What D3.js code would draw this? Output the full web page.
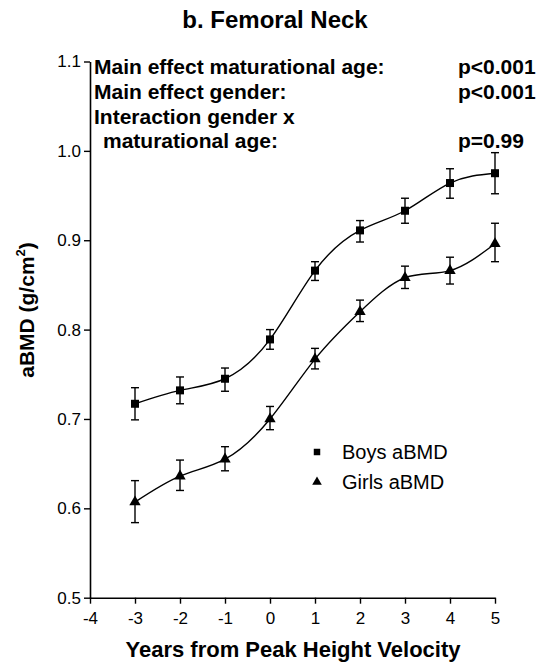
<!DOCTYPE html>
<html><head><meta charset="utf-8">
<script src="https://cdn.jsdelivr.net/npm/d3@7"></script>
<style>body{margin:0;background:#fff}svg{display:block}</style>
</head><body>
<script>
const years = [-3, -2, -1, 0, 1, 2, 3, 4, 5];
const boysMean = [0.717, 0.732, 0.745, 0.789, 0.866, 0.911, 0.933, 0.964, 0.975];
const boysLow  = [0.699, 0.717, 0.731, 0.778, 0.855, 0.898, 0.919, 0.947, 0.952];
const boysHigh = [0.735, 0.747, 0.757, 0.800, 0.876, 0.922, 0.947, 0.980, 0.998];
const girlsMean = [0.607, 0.636, 0.655, 0.700, 0.767, 0.820, 0.858, 0.866, 0.896];
const girlsLow  = [0.584, 0.620, 0.642, 0.688, 0.756, 0.809, 0.846, 0.851, 0.876];
const girlsHigh = [0.631, 0.654, 0.669, 0.714, 0.779, 0.833, 0.871, 0.881, 0.919];
const xTicks = [-4, -3, -2, -1, 0, 1, 2, 3, 4, 5];
const yTicks = [0.5, 0.6, 0.7, 0.8, 0.9, 1.0, 1.1];
const seriesNames = ["Boys aBMD", "Girls aBMD"];
const statLabels = ["Main effect maturational age:", "Main effect gender:", "Interaction gender x", "  maturational age:"];
const statValues = ["p<0.001", "p<0.001", "", "p=0.99"];

const W = 545, H = 667;
const svg = d3.select("body").append("svg").attr("width", W).attr("height", H);
const x = d3.scaleLinear().domain([-4, 5]).range([90, 495]);
const y = d3.scaleLinear().domain([0.5, 1.1]).range([597.7, 61.5]);
const font = "Arial, 'Liberation Sans', Helvetica, sans-serif";

// Title
svg.append("text").attr("x", 275).attr("y", 28).attr("text-anchor", "middle")
  .style("font-family", font).style("font-weight", "bold").style("font-size", "24px")
  .text("b. Femoral Neck");

// Axes
const xAxis = svg.append("g").attr("transform", `translate(0,${y(0.5)})`)
  .call(d3.axisBottom(x).tickValues(xTicks).tickFormat(d3.format("d")).tickSize(6).tickSizeOuter(0));
const yAxis = svg.append("g").attr("transform", `translate(${x(-4)},0)`)
  .call(d3.axisLeft(y).tickValues(yTicks).tickFormat(d3.format(".1f")).tickSize(6).tickSizeOuter(0));
[xAxis, yAxis].forEach(g => {
  g.select(".domain").attr("stroke", "#000").attr("stroke-width", 1.6);
  g.selectAll(".tick line").attr("stroke", "#000").attr("stroke-width", 1.4);
  g.selectAll("text").attr("fill", "#000").style("font-family", font);
});
xAxis.selectAll("text").style("font-size", "17px").attr("dy", "0").attr("y", 26)
  .text(d => d < 0 ? "-" + Math.abs(d) : d);
yAxis.selectAll("text").style("font-size", "17px").attr("x", -9);

// Axis titles
svg.append("text").attr("x", 293).attr("y", 657).attr("text-anchor", "middle")
  .style("font-family", font).style("font-weight", "bold").style("font-size", "22px")
  .text("Years from Peak Height Velocity");
const yt = svg.append("text").attr("transform", "translate(34,310) rotate(-90)").attr("text-anchor", "middle")
  .style("font-family", font).style("font-weight", "bold").style("font-size", "21px");
yt.append("tspan").text("aBMD (g/cm");
yt.append("tspan").attr("dy", "-9").style("font-size", "13px").text("2");
yt.append("tspan").attr("dy", "9").text(")");

// Stats annotation
const statY = [74, 99, 124, 148];
statLabels.forEach((t, i) => {
  svg.append("text").attr("x", t.startsWith("  ") ? 103 : 94).attr("y", statY[i])
    .style("font-family", font).style("font-weight", "bold").style("font-size", "21px")
    .text(t.trim());
  if (statValues[i]) svg.append("text").attr("x", 458).attr("y", statY[i])
    .style("font-family", font).style("font-weight", "bold").style("font-size", "21px")
    .text(statValues[i]);
});

// Series
const series = [
  {mean: boysMean, low: boysLow, high: boysHigh, sym: d3.symbolSquare, size: 64},
  {mean: girlsMean, low: girlsLow, high: girlsHigh, sym: d3.symbolTriangle, size: 56}
];
const line = d3.line().x(d => x(d[0])).y(d => y(d[1])).curve(d3.curveNatural);
series.forEach(s => {
  const pts = years.map((yr, i) => [yr, s.mean[i]]);
  svg.append("path").attr("d", line(pts)).attr("fill", "none").attr("stroke", "#000").attr("stroke-width", 1.4);
  const eb = svg.append("g").attr("stroke", "#000").attr("stroke-width", 1.4);
  years.forEach((yr, i) => {
    eb.append("line").attr("x1", x(yr)).attr("x2", x(yr)).attr("y1", y(s.low[i])).attr("y2", y(s.high[i]));
    eb.append("line").attr("x1", x(yr) - 4).attr("x2", x(yr) + 4).attr("y1", y(s.low[i])).attr("y2", y(s.low[i]));
    eb.append("line").attr("x1", x(yr) - 4).attr("x2", x(yr) + 4).attr("y1", y(s.high[i])).attr("y2", y(s.high[i]));
  });
  svg.append("g").selectAll("path").data(pts).join("path")
    .attr("transform", d => `translate(${x(d[0])},${y(d[1])})`)
    .attr("d", d3.symbol().type(s.sym).size(s.size)).attr("fill", "#000");
});

// Legend
const legY = [452, 482];
seriesNames.forEach((n, i) => {
  svg.append("path").attr("transform", `translate(317,${legY[i]})`)
    .attr("d", d3.symbol().type(series[i].sym).size(i === 0 ? 42 : 40)).attr("fill", "#000");
  svg.append("text").attr("x", 342).attr("y", legY[i] + 7)
    .style("font-family", font).style("font-size", "20px").text(n);
});
</script>
</body></html>
